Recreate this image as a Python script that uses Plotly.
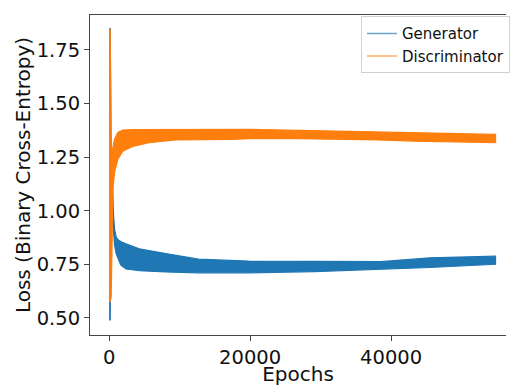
import plotly.graph_objects as go

# ---- data (envelope of the noisy loss curves) ----
gen_epochs = [0, 150, 300, 450, 630, 770, 1000, 1240, 1470, 1700, 2400, 4280,
              8030, 12700, 19800, 29200, 38500, 45500, 54900]
gen_low = [0.49, 0.49, 0.96, 0.96, 0.90, 0.84, 0.80, 0.775, 0.76, 0.745, 0.728,
           0.72, 0.714, 0.71, 0.71, 0.716, 0.727, 0.735, 0.75]
gen_high = [1.85, 1.85, 1.22, 1.15, 0.977, 0.915, 0.877, 0.865, 0.86, 0.855,
            0.845, 0.822, 0.80, 0.774, 0.765, 0.765, 0.762, 0.78, 0.788]

disc_epochs = [0, 150, 300, 450, 540, 770, 1240, 1940, 3340, 5680, 9430, 17400,
               20000, 27000, 33800, 38000, 43200, 48000, 54900]
disc_low = [0.576, 0.576, 0.60, 0.90, 1.10, 1.18, 1.24, 1.278, 1.30, 1.317,
            1.33, 1.333, 1.336, 1.336, 1.333, 1.33, 1.325, 1.322, 1.317]
disc_high = [1.846, 1.846, 1.27, 1.28, 1.295, 1.333, 1.365, 1.376, 1.378,
             1.378, 1.38, 1.379, 1.379, 1.375, 1.37, 1.367, 1.364, 1.36, 1.356]

series_names = ["Generator", "Discriminator"]
x_ticks = [0, 20000, 40000]
y_ticks = [0.50, 0.75, 1.00, 1.25, 1.50, 1.75]

BLUE = "#1f77b4"
ORANGE = "#ff7f0e"
BLUE_L = "rgba(31,119,180,0.65)"
ORANGE_L = "rgba(255,127,14,0.65)"
FONT = "DejaVu Sans"

fig = go.Figure()

for ep, lo, hi, col in [(gen_epochs, gen_low, gen_high, BLUE),
                        (disc_epochs, disc_low, disc_high, ORANGE)]:
    fig.add_trace(go.Scatter(x=ep, y=lo, mode="lines",
                             line=dict(color=col, width=1.2),
                             showlegend=False, hoverinfo="skip"))
    fig.add_trace(go.Scatter(x=ep, y=hi, mode="lines",
                             line=dict(color=col, width=1.2),
                             fill="tonexty", fillcolor=col,
                             showlegend=False, hoverinfo="skip"))

# legend entries
for name, col in zip(series_names, [BLUE_L, ORANGE_L]):
    fig.add_trace(go.Scatter(x=[None], y=[None], mode="lines",
                             line=dict(color=col, width=1.5), name=name))

fig.update_layout(
    width=510, height=386,
    margin=dict(l=90, r=0, t=15, b=51),
    paper_bgcolor="white", plot_bgcolor="white",
    font=dict(family=FONT, size=19.5, color="#111"),
    showlegend=True,
    legend=dict(x=0.652, y=0.996, xanchor="left", yanchor="top",
                traceorder="normal",
                bgcolor="rgba(255,255,255,0.85)", bordercolor="#d0d0d0",
                borderwidth=1, font=dict(family=FONT, size=15, color="#111"),
                tracegroupgap=0),
)

fig.update_xaxes(
    range=[-2712, 56300], tickvals=x_ticks, ticktext=[str(v) for v in x_ticks],
    showgrid=False, zeroline=False,
    showline=True, mirror=True, linecolor="#444", linewidth=1,
    ticks="outside", ticklen=5, tickcolor="#444",
    title=dict(text="Epochs", font=dict(family=FONT, size=20), standoff=4),
)
fig.update_yaxes(
    range=[0.42, 1.913], tickvals=y_ticks,
    ticktext=[f"{v:.2f}" for v in y_ticks],
    showgrid=False, zeroline=False,
    showline=True, mirror=False, linecolor="#444", linewidth=1,
    ticks="outside", ticklen=5, tickcolor="#444",
    title=dict(text="Loss (Binary Cross-Entropy)",
               font=dict(family=FONT, size=20), standoff=0),
)

fig.write_html("out.html")
